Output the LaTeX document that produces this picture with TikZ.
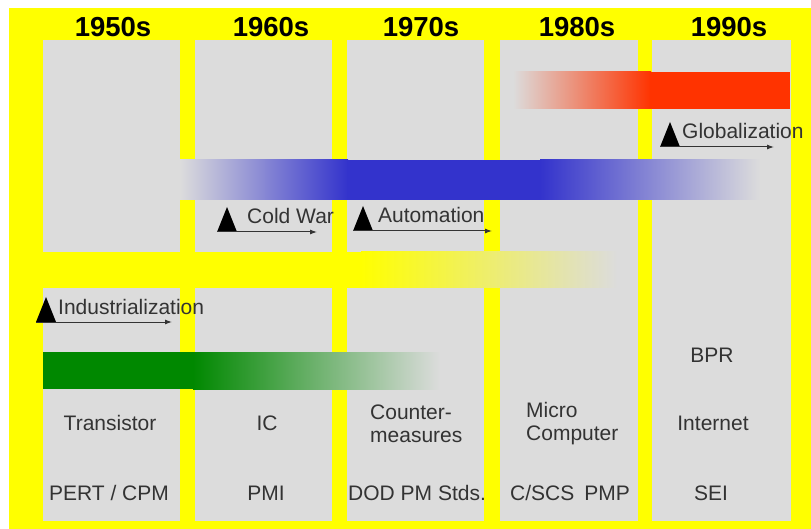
\documentclass[tikz,border=0pt]{standalone}
\usepackage{fontspec}
\setmainfont{Liberation Sans}
\usetikzlibrary{arrows.meta}
\definecolor{bgyellow}{HTML}{FFFF00}
\definecolor{colgray}{HTML}{DCDCDC}
\definecolor{barblue}{HTML}{3333CC}
\definecolor{barred}{HTML}{FF3300}
\definecolor{bargreen}{HTML}{008800}
\definecolor{txtgray}{HTML}{333333}

\begin{document}
\begin{tikzpicture}[x=1pt, y=-1pt,
  >={Latex[length=7pt, width=5pt]},
  every node/.style={text=txtgray, font=\fontsize{21}{23}\selectfont, inner sep=0pt},
  decade/.style={text=black, font=\fontsize{27.5}{30}\selectfont\bfseries},
  trend/.style={draw=txtgray, line width=1pt, ->},
  marker/.style={fill=black},
]

\useasboundingbox (0,0) rectangle (811,529);
\fill[white] (0,0) rectangle (811,529);

% Background
\fill[bgyellow] (9,8) rectangle (811,529);

% Decade columns
\foreach \xa/\xb in {43/180, 195/332, 347/484, 500/638, 652/791}
  \fill[colgray] (\xa,40) rectangle (\xb,521);

% Decade titles
\node[decade] (d50) at (113,27) {1950s};
\node[decade] (d60) at (271,27) {1960s};
\node[decade] (d70) at (421,27) {1970s};
\node[decade] (d80) at (577,27) {1980s};
\node[decade] (d90) at (729,27) {1990s};

% Yellow bar
\fill[bgyellow] (9,252) rectangle (362,288);
\shade[left color=bgyellow, right color=colgray] (361,252) rectangle (617,288);

% Blue bar
\shade[left color=colgray, right color=barblue] (180,160) rectangle (348,200);
\fill[barblue] (347,160) rectangle (541,200);
\shade[left color=barblue, right color=colgray] (540,160) rectangle (760,200);

% Red bar
\shade[left color=colgray, right color=barred] (513,72) rectangle (651,109);
\fill[barred] (650,72) rectangle (790,109);

% Green bar
\fill[bargreen] (43,352) rectangle (194,389);
\shade[left color=bargreen, right color=colgray] (193,352) rectangle (440,389);

% Trend markers with arrows
\foreach \name/\xs/\yb/\xe/\dx/\txt in {ind/36/322/172/22/Industrialization, cw/217/232/317/30/Cold War, aut/353/231/492/25/Automation, glob/660/147/774/22/Globalization} {
  \coordinate (\name-s) at (\xs,\yb);
  \coordinate (\name-e) at (\xe,\yb);
  \fill[marker] (\name-s) -- ++(10,-25) -- ++(10,25) -- cycle;
  \node[anchor=base west] (\name) at (\xs+\dx,\yb-8) {\txt};
  \draw[trend] (\name-s) -- (\name-e);
}

% Technology
\node (trans) at (110,423) {Transistor};
\node (ic) at (267,423) {IC};
\node[anchor=west, align=left] (cm) at (370,424) {Counter-\\measures};
\node[anchor=west, align=left] (mc) at (526,424) {Micro\\Computer};
\node (bpr) at (712,355) {BPR};
\node (inet) at (713,423) {Internet};

% PM methods
\node (pert) at (109,493) {PERT / CPM};
\node (pmi) at (266,493) {PMI};
\node[anchor=west] (dod) at (348,493) {DOD PM Stds.};
\node (cscs) at (570,493) {C/SCS\hspace{10pt}PMP};
\node (sei) at (711,493) {SEI};

\end{tikzpicture}
\end{document}
